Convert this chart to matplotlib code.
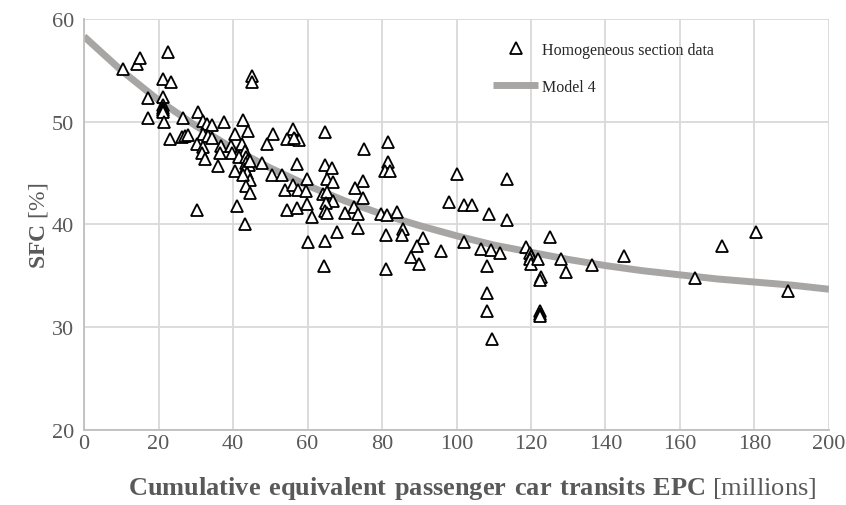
import matplotlib
matplotlib.use("Agg")
import matplotlib.pyplot as plt

# ---- data ----
epc = [10.6, 14.1, 15.0, 22.5, 21.3, 23.3, 17.1, 21.1, 21.1, 21.1, 21.1, 21.3, 17.1, 21.6,
       26.5, 30.7, 23.1, 26.2, 27.1, 27.8, 32.0, 32.9, 34.3, 37.6, 42.6, 32.0, 33.4, 34.3,
       30.2, 40.5, 44.0, 45.2, 45.0, 32.0, 31.6, 32.5, 36.9, 36.5, 39.4, 39.6, 36.0, 42.3,
       43.2, 41.5, 43.4, 44.0, 43.6, 44.3, 43.2, 43.8, 44.6, 47.7, 40.5, 44.6, 42.8, 43.6,
       44.6, 50.8, 49.0, 56.2, 54.4, 56.6, 57.8, 57.1, 50.6, 53.2, 53.9, 56.2, 57.5, 59.8,
       59.6, 30.2, 41.1, 43.3, 54.4, 57.3, 59.8, 64.7, 75.2, 81.7, 81.5, 80.8, 82.1, 64.7,
       66.7, 65.2, 66.8, 75.0, 72.8, 74.8, 64.2, 65.1, 66.9, 64.9, 64.8, 65.3, 70.2, 72.5,
       73.6, 79.7, 81.3, 84.1, 61.1, 60.0, 64.7, 68.0, 73.5, 81.2, 85.7, 85.4, 90.9, 89.3,
       87.9, 90.0, 95.8, 64.4, 81.2, 100.0, 113.6, 98.1, 102.1, 104.1, 108.8, 113.6, 102.0,
       106.6, 109.2, 111.7, 118.7, 119.7, 119.9, 119.6, 120.1, 122.0, 125.1, 128.1, 108.1,
       108.1, 108.1, 109.4, 122.6, 122.5, 122.4, 122.4, 122.4, 129.4, 136.5, 145.0, 164.0,
       171.2, 180.4, 189.1, 56.4]
sfc = [55.1, 55.6, 56.2, 56.8, 54.2, 53.9, 52.3, 52.4, 51.6, 51.3, 51.1, 50.9, 50.4, 49.95,
       50.4, 50.9, 48.3, 48.5, 48.6, 48.7, 50.1, 49.8, 49.7, 49.95, 50.2, 48.8, 48.65, 48.4,
       47.8, 48.8, 49.1, 54.5, 53.9, 47.5, 47.0, 46.4, 47.6, 47.0, 47.6, 47.0, 45.7, 47.8,
       47.2, 46.6, 46.6, 46.3, 46.0, 45.8, 45.4, 45.0, 46.2, 46.0, 45.2, 44.3, 44.8, 43.7,
       43.1, 48.8, 47.8, 49.3, 48.3, 48.3, 48.2, 45.9, 44.8, 44.8, 43.4, 43.85, 43.4, 44.4,
       43.3, 41.4, 41.8, 40.0, 41.4, 41.6, 42.0, 49.0, 47.3, 48.0, 46.05, 45.25, 45.25, 45.8,
       45.5, 44.4, 44.1, 44.2, 43.55, 42.55, 43.0, 43.2, 42.3, 42.1, 41.3, 41.1, 41.1, 41.7,
       41.0, 41.0, 40.9, 41.2, 40.7, 38.3, 38.4, 39.25, 39.7, 39.0, 39.6, 38.95, 38.7, 37.9,
       36.8, 36.2, 37.4, 36.0, 35.7, 44.9, 44.4, 42.2, 41.9, 41.9, 41.0, 40.4, 38.3,
       37.6, 37.5, 37.2, 37.8, 37.2, 36.9, 36.6, 36.2, 36.6, 38.75, 36.65, 36.0,
       33.35, 31.6, 28.9, 34.9, 34.6, 31.6, 31.3, 31.1, 35.4, 36.1, 36.9, 34.8,
       37.95, 39.25, 33.5, 48.4]

model_x = [0, 10, 20, 30, 40, 50, 60, 70, 80, 90, 100, 110, 120, 130, 140, 150, 160, 170, 180, 190, 200]
model_y = [58.3, 55.0, 52.1, 49.6, 47.4, 45.5, 43.8, 42.3, 41.0, 39.9, 38.9, 38.0, 37.3, 36.6,
           36.0, 35.5, 35.1, 34.7, 34.4, 34.1, 33.7]

x_ticks = [0, 20, 40, 60, 80, 100, 120, 140, 160, 180, 200]
y_ticks = [20, 30, 40, 50, 60]

# ---- style ----
plt.rcParams['font.family'] = ['Liberation Serif', 'DejaVu Serif']
plt.rcParams['mathtext.fontset'] = 'custom'
plt.rcParams['mathtext.rm'] = 'Liberation Serif'
plt.rcParams['mathtext.bf'] = 'Liberation Serif:bold'

txt = '#595959'
grid_c = '#D9D9D9'

fig = plt.figure(figsize=(8.46, 5.06), dpi=100)
ax = fig.add_axes([0.0993, 0.1482, 0.8806, 0.8123])

ax.plot(model_x, model_y, color='#A8A5A5', lw=5, solid_capstyle='butt', zorder=2, label='Model 4')
ax.plot(epc, sfc, linestyle='none', marker='^', ms=9, mfc='white', mec='black', mew=1.3,
        zorder=3, label='Homogeneous section data')

ax.set_xlim(0, 200)
ax.set_ylim(20, 60)
ax.set_xticks(x_ticks)
ax.set_yticks(y_ticks)
ax.grid(True, color=grid_c, lw=1.3, zorder=0)
ax.set_axisbelow(True)
for s in ['top', 'right']:
    ax.spines[s].set_visible(False)
for s in ['left', 'bottom']:
    ax.spines[s].set_color('#BFBFBF')
    ax.spines[s].set_linewidth(1.3)
ax.tick_params(length=0, labelsize=16, colors=txt)
ax.tick_params(axis='y', pad=7)
ax.tick_params(axis='x', pad=3)

ax.set_xlabel(r'$\mathbf{Cumulative\ equivalent\ passenger\ car\ transits\ EPC}$ [millions]',
              fontsize=19, color=txt, labelpad=15)
ax.xaxis.label.set_x(0.521)
ax.set_ylabel(r'$\mathbf{SFC}$ [%]', fontsize=17, color=txt)
ax.yaxis.set_label_coords(-0.046, 0.5)

h, l = ax.get_legend_handles_labels()
leg = ax.legend(h[::-1], l[::-1], loc='upper left', bbox_to_anchor=(0.53, 0.979), frameon=False,
                fontsize=11.5, handlelength=2.8, labelspacing=1.3, handletextpad=0.25)
for t in leg.get_texts():
    t.set_color('#262626')

fig.savefig('out.png', dpi=100)
